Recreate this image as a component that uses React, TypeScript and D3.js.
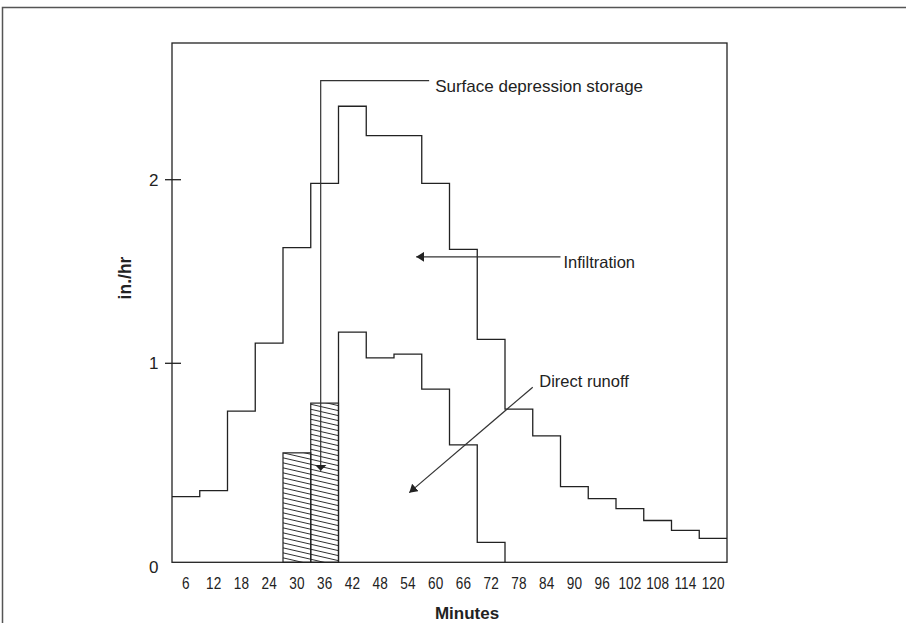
import { useEffect, useRef } from "react";
import * as d3 from "d3";

// 6-minute intervals (label = end of interval)
const minutes = ["6", "12", "18", "24", "30", "36", "42", "48", "54", "60", "66", "72", "78", "84", "90", "96", "102", "108", "114", "120"];
// rainfall intensity, in./hr
const rainfall = [0.33, 0.36, 0.76, 1.11, 1.63, 1.98, 2.4, 2.24, 2.24, 1.98, 1.62, 1.13, 0.77, 0.635, 0.38, 0.32, 0.27, 0.21, 0.16, 0.12];
// surface depression storage (hatched)
const storageMinutes = ["30", "36"];
const storage = [0.55, 0.8];
// direct runoff
const runoffMinutes = ["42", "48", "54", "60", "66", "72"];
const runoff = [1.17, 1.03, 1.05, 0.87, 0.59, 0.1];
const yTicks = [1, 2];

const W = 906;
const H = 623;
const box = { left: 172, top: 43, right: 727, bottom: 562.3 };
const ink = "#222";
const font = "'Liberation Sans', Arial, Helvetica, sans-serif";

export default function App() {
  const ref = useRef<SVGSVGElement>(null);

  useEffect(() => {
    const svg = d3.select(ref.current);
    svg.selectAll("*").remove();

    const x = d3.scaleBand(minutes, [box.left, box.right]).padding(0);
    const bw = x.bandwidth();
    // minute scale for the annotations
    const xm = d3.scaleLinear([0, 120], [box.left, box.right]);
    // the drawn axis is not evenly spaced: 0-1 is taller than 1-2
    const y = d3.scaleLinear([0, 1, 2], [box.bottom, 363.3, 179.7]);

    const defs = svg.append("defs");
    const hatch = defs
      .append("pattern")
      .attr("id", "hatch")
      .attr("patternUnits", "userSpaceOnUse")
      .attr("width", 10)
      .attr("height", 5)
      .attr("patternTransform", "skewY(13)");
    hatch
      .append("line")
      .attr("x1", 0)
      .attr("x2", 10)
      .attr("y1", 2.5)
      .attr("y2", 2.5)
      .attr("stroke", ink)
      .attr("stroke-width", 0.9);

    const marker = (id: string, len: number, half: number) =>
      defs
        .append("marker")
        .attr("id", id)
        .attr("markerUnits", "userSpaceOnUse")
        .attr("viewBox", `0 ${-half} ${len} ${half * 2}`)
        .attr("markerWidth", len)
        .attr("markerHeight", half * 2)
        .attr("refX", len)
        .attr("refY", 0)
        .attr("orient", "auto")
        .append("path")
        .attr("d", `M0,${-half}L${len},0L0,${half}Z`)
        .attr("fill", ink);
    marker("headWide", 6, 6);
    marker("head", 8, 5);

    // outer frame
    svg
      .append("rect")
      .attr("x", 2.5)
      .attr("y", 7.5)
      .attr("width", 1000)
      .attr("height", 1000)
      .attr("fill", "none")
      .attr("stroke", "#555")
      .attr("stroke-width", 1.5);

    // hatched storage bars
    svg
      .append("g")
      .selectAll("rect")
      .data(storage)
      .join("rect")
      .attr("x", (d, i) => x(storageMinutes[i])!)
      .attr("y", (d) => y(d))
      .attr("width", bw)
      .attr("height", (d) => y(0) - y(d))
      .attr("fill", "url(#hatch)")
      .attr("stroke", ink)
      .attr("stroke-width", 1.2);

    const step = d3
      .line<[number, number]>()
      .x((d) => d[0])
      .y((d) => y(d[1]))
      .curve(d3.curveStepAfter);

    // rainfall hyetograph
    const rainPts: [number, number][] = rainfall.map((v, i) => [x(minutes[i])!, v]);
    rainPts.push([x(minutes[minutes.length - 1])! + bw, rainfall[rainfall.length - 1]]);
    svg
      .append("path")
      .attr("d", step(rainPts))
      .attr("fill", "none")
      .attr("stroke", ink)
      .attr("stroke-width", 1.3);

    // direct runoff
    const roPts: [number, number][] = [[x(runoffMinutes[0])!, 0]];
    runoff.forEach((v, i) => roPts.push([x(runoffMinutes[i])!, v]));
    const roEnd = x(runoffMinutes[runoffMinutes.length - 1])! + bw;
    roPts.push([roEnd, runoff[runoff.length - 1]]);
    roPts.push([roEnd, 0]);
    svg
      .append("path")
      .attr("d", step(roPts))
      .attr("fill", "none")
      .attr("stroke", ink)
      .attr("stroke-width", 1.3);

    // plot box
    svg
      .append("rect")
      .attr("x", box.left)
      .attr("y", box.top)
      .attr("width", box.right - box.left)
      .attr("height", box.bottom - box.top)
      .attr("fill", "none")
      .attr("stroke", ink)
      .attr("stroke-width", 1.3);

    // y ticks
    yTicks.forEach((t) => {
      svg
        .append("line")
        .attr("x1", box.left - 7)
        .attr("x2", box.left + 9)
        .attr("y1", y(t))
        .attr("y2", y(t))
        .attr("stroke", ink)
        .attr("stroke-width", 1.3);
    });
    [0, ...yTicks].forEach((t) => {
      svg
        .append("text")
        .attr("x", 158.5)
        .attr("y", y(t) + (t === 0 ? 5 : 0))
        .attr("dy", "0.36em")
        .attr("text-anchor", "end")
        .attr("font-family", font)
        .attr("font-size", 17)
        .attr("fill", ink)
        .text(t);
    });

    // x tick labels, centred in each interval (squeezed like the condensed face)
    svg
      .append("g")
      .selectAll("text")
      .data(minutes)
      .join("text")
      .attr("transform", (d) => `translate(${x(d)! + bw / 2},589) scale(0.8,1)`)
      .attr("text-anchor", "middle")
      .attr("font-family", font)
      .attr("font-size", 17)
      .attr("fill", ink)
      .text((d) => d);

    // axis titles
    svg
      .append("text")
      .attr("x", 467)
      .attr("y", 619)
      .attr("text-anchor", "middle")
      .attr("font-family", font)
      .attr("font-weight", "bold")
      .attr("font-size", 17)
      .attr("fill", ink)
      .text("Minutes");
    svg
      .append("text")
      .attr("transform", `translate(131,${278}) rotate(-90)`)
      .attr("text-anchor", "middle")
      .attr("font-family", font)
      .attr("font-weight", "bold")
      .attr("font-size", 17.5)
      .attr("fill", ink)
      .text("in./hr");

    // annotations
    const lead = "#333";
    const sx = xm(32.15);
    const sTop = y(2.54);
    svg
      .append("path")
      .attr("d", `M${xm(55.6)},${sTop}H${sx}V${y(0.46)}`)
      .attr("fill", "none")
      .attr("stroke", lead)
      .attr("stroke-width", 1.2)
      .attr("marker-end", "url(#headWide)");
    svg
      .append("text")
      .attr("x", xm(55.6) + 6)
      .attr("y", sTop + 11)
      .attr("font-family", font)
      .attr("font-size", 17)
      .attr("fill", ink)
      .text("Surface depression storage");

    const iy = y(1.58);
    svg
      .append("line")
      .attr("x1", xm(84))
      .attr("y1", iy)
      .attr("x2", xm(52.8))
      .attr("y2", iy)
      .attr("stroke", lead)
      .attr("stroke-width", 1.2)
      .attr("marker-end", "url(#head)");
    svg
      .append("text")
      .attr("x", xm(84) + 3)
      .attr("y", iy + 11.5)
      .attr("font-family", font)
      .attr("font-size", 16.5)
      .attr("fill", ink)
      .text("Infiltration");

    svg
      .append("line")
      .attr("x1", xm(78))
      .attr("y1", y(0.88))
      .attr("x2", xm(51.3))
      .attr("y2", y(0.35))
      .attr("stroke", lead)
      .attr("stroke-width", 1.2)
      .attr("marker-end", "url(#head)");
    svg
      .append("text")
      .attr("x", xm(78) + 6.5)
      .attr("y", y(0.88))
      .attr("font-family", font)
      .attr("font-size", 16.5)
      .attr("fill", ink)
      .text("Direct runoff");
  }, []);

  return (
    <svg
      ref={ref}
      width={W}
      height={H}
      style={{ position: "absolute", left: 0, top: 0, background: "#fff" }}
    />
  );
}
